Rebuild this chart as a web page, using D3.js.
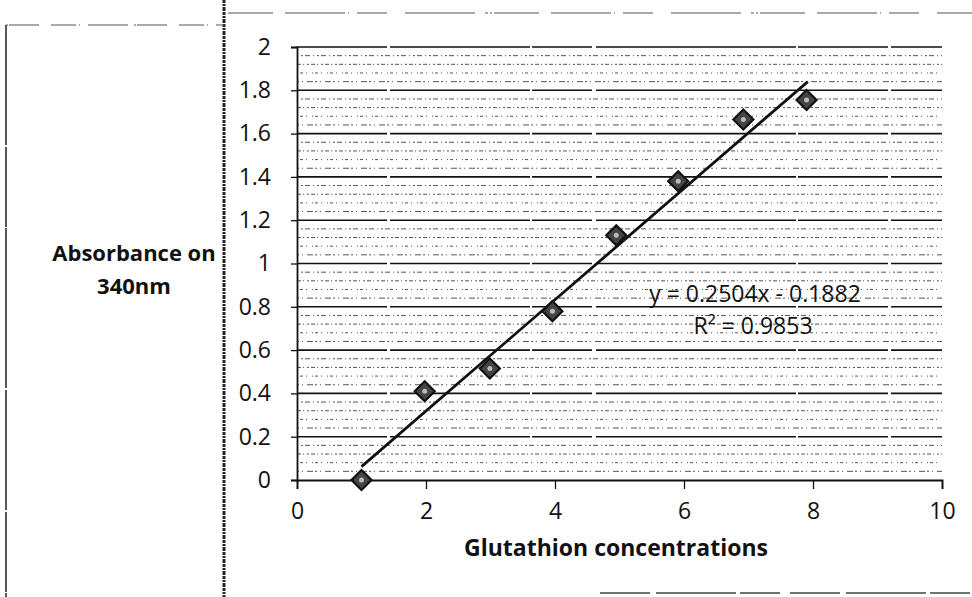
<!DOCTYPE html>
<html>
<head>
<meta charset="utf-8">
<script src="https://cdn.jsdelivr.net/npm/d3@7"></script>
<style>
  body { margin: 0; background: #fff; }
  svg text { font-family: "Open Sans", "Noto Sans", sans-serif; fill: #111; }
</style>
</head>
<body>
<div id="vis"></div>
<script>
// data
var concentrations = [1, 1.98, 2.99, 3.96, 4.95, 5.91, 6.92, 7.9];
var absorbance = [0, 0.41, 0.515, 0.78, 1.13, 1.38, 1.665, 1.755];
var trendX = [1, 7.92];
var trendY = [0.062, 1.84];
var xTicks = [0, 2, 4, 6, 8, 10];
var yTicks = [0, 0.2, 0.4, 0.6, 0.8, 1, 1.2, 1.4, 1.6, 1.8, 2];
var minorStep = 0.04;
var equationText = "y = 0.2504x - 0.1882";
var rSquaredText = "R² = 0.9853";
var yTitle = ["Absorbance on", "340nm"];
var xTitle = "Glutathion concentrations";

var width = 972, height = 597;

var svg = d3.select("#vis")
    .append("svg")
    .attr("width", width)
    .attr("height", height);

var x = d3.scaleLinear().domain([0, 10]).range([297, 942]);
var y = d3.scaleLinear().domain([0, 2]).range([480, 47]);

////////// scan frame lines //////////
var frame = svg.append("g").attr("class", "frame");
frame.append("line")
    .attr("x1", 224).attr("x2", 224).attr("y1", 0).attr("y2", height)
    .attr("stroke", "#222").attr("stroke-width", 3)
    .attr("stroke-dasharray", "3,1,2,1,4,1");
frame.append("line")
    .attr("x1", 6).attr("x2", 6).attr("y1", 25).attr("y2", height)
    .attr("stroke", "#222").attr("stroke-width", 1.5)
    .attr("stroke-dasharray", "120,2,80,1,160,2");
frame.append("line")
    .attr("x1", 6).attr("x2", 224).attr("y1", 25).attr("y2", 25)
    .attr("stroke", "#555").attr("stroke-width", 1.2)
    .attr("stroke-dasharray", "2,1,30,12,25,3,1,8,40,6");
frame.append("line")
    .attr("x1", 224).attr("x2", width).attr("y1", 13).attr("y2", 13)
    .attr("stroke", "#555").attr("stroke-width", 1.2)
    .attr("stroke-dasharray", "2,2,45,12,60,3,1,8,30,18,70,10,3,2");
frame.append("line")
    .attr("x1", 600).attr("x2", width).attr("y1", 593).attr("y2", 593)
    .attr("stroke", "#444").attr("stroke-width", 1.5)
    .attr("stroke-dasharray", "50,6,80,4,40,10");

////////// gridlines //////////
var plot = svg.append("g").attr("class", "plot");

// dotted texture lines between the major gridlines
var minor = d3.range(minorStep, 2, minorStep).filter(function(d) {
  return Math.abs(d / 0.2 - Math.round(d / 0.2)) > 0.01;
});
var patterns = ["2,3,1,4,6,2", "1,2,3,3,1,5", "4,2,1,3,2,2", "1,3,2,2,5,3"];
plot.selectAll(".minor")
    .data(minor)
    .enter()
    .append("line")
    .attr("class", "minor")
    .attr("x1", x(0)).attr("x2", x(10))
    .attr("y1", function(d) { return y(d); })
    .attr("y2", function(d) { return y(d); })
    .attr("stroke", "#555")
    .attr("stroke-width", 1)
    .attr("stroke-dasharray", function(d, i) { return patterns[i % patterns.length]; });

plot.selectAll(".major")
    .data(yTicks.slice(1))
    .enter()
    .append("line")
    .attr("class", "major")
    .attr("x1", x(0)).attr("x2", x(10))
    .attr("y1", function(d) { return y(d); })
    .attr("y2", function(d) { return y(d); })
    .attr("stroke", "#111")
    .attr("stroke-width", 1.6)
    .attr("stroke-dasharray", "90,3,140,2,60,4,200,2");

////////// axes //////////
var yAxis = svg.append("g")
    .attr("transform", "translate(" + x(0) + ",0)")
    .call(d3.axisLeft(y).tickValues(yTicks).tickSize(6).tickPadding(20)
      .tickFormat(d3.format("")));
yAxis.select(".domain").attr("stroke", "#111").attr("stroke-width", 1.8);
yAxis.selectAll(".tick line").attr("stroke", "#111").attr("stroke-width", 1.3);
yAxis.selectAll(".tick text")
    .style("font-size", "23px")
    .attr("fill", "#111");

var xAxis = svg.append("g")
    .attr("transform", "translate(0," + y(0) + ")")
    .call(d3.axisBottom(x).tickValues(xTicks).tickSize(9).tickPadding(14)
      .tickFormat(d3.format("")));
xAxis.select(".domain").attr("stroke", "#111").attr("stroke-width", 1.8);
xAxis.selectAll(".tick line").attr("stroke", "#111").attr("stroke-width", 1.3);
xAxis.selectAll(".tick text")
    .style("font-size", "23px")
    .attr("fill", "#111");

////////// trendline and points //////////
svg.append("line")
    .attr("x1", x(trendX[0])).attr("y1", y(trendY[0]))
    .attr("x2", x(trendX[1])).attr("y2", y(trendY[1]))
    .attr("stroke", "#111")
    .attr("stroke-width", 2.8);

var points = concentrations.map(function(c, i) { return [c, absorbance[i]]; });
var diamond = d3.symbol().type(d3.symbolSquare).size(200);

svg.selectAll(".pt")
    .data(points)
    .enter()
    .append("path")
    .attr("class", "pt")
    .attr("d", diamond)
    .attr("transform", function(d) {
      return "translate(" + x(d[0]) + "," + y(d[1]) + ") rotate(45)";
    })
    .attr("fill", "#444")
    .attr("stroke", "#111")
    .attr("stroke-width", 2.2);

svg.selectAll(".ptdot")
    .data(points)
    .enter()
    .append("circle")
    .attr("class", "ptdot")
    .attr("cx", function(d) { return x(d[0]); })
    .attr("cy", function(d) { return y(d[1]); })
    .attr("r", 2.5)
    .attr("fill", "#bbb");

////////// labels //////////
svg.append("text")
    .attr("x", 755).attr("y", 302)
    .attr("text-anchor", "middle")
    .style("font-size", "23px")
    .text(equationText);
svg.append("text")
    .attr("x", 753).attr("y", 334)
    .attr("text-anchor", "middle")
    .style("font-size", "23px")
    .text(rSquaredText);

svg.selectAll(".ytitle")
    .data(yTitle)
    .enter()
    .append("text")
    .attr("class", "ytitle")
    .attr("x", 134)
    .attr("y", function(d, i) { return 261 + i * 33; })
    .attr("text-anchor", "middle")
    .style("font-size", "22px")
    .style("font-weight", "bold")
    .text(function(d) { return d; });

svg.append("text")
    .attr("x", 616).attr("y", 556)
    .attr("text-anchor", "middle")
    .style("font-size", "23px")
    .style("font-weight", "bold")
    .text(xTitle);
</script>
</body>
</html>
